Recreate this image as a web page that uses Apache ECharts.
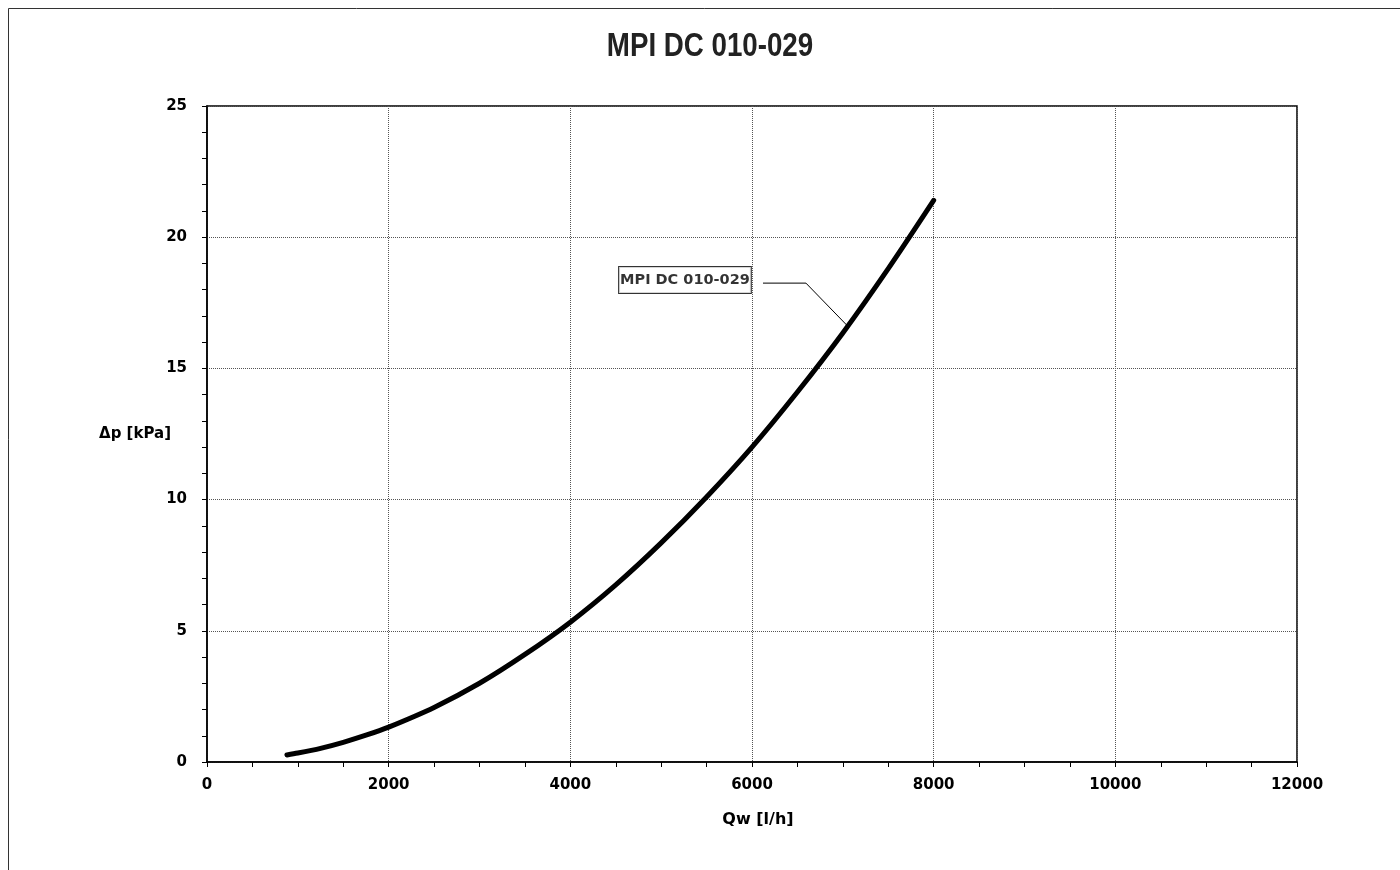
<!DOCTYPE html>
<html><head><meta charset="utf-8">
<script src="https://cdn.jsdelivr.net/npm/echarts@6/dist/echarts.min.js"></script>
<style>html,body{margin:0;padding:0;background:#fff}#c{width:1400px;height:870px}</style>
</head><body><div id="c"></div>
<script>
const titleText = 'MPI DC 010-029';
const seriesName = 'MPI DC 010-029';
const xName = 'Qw [l/h]';
const yName = 'Δp [kPa]';
const flow = [880, 1000, 1250, 1500, 1750, 2000, 2500, 3000, 3500, 4000, 4500, 5000, 5500, 6000, 6500, 7000, 7500, 8000];
const dp   = [0.27, 0.34, 0.52, 0.75, 1.02, 1.33, 2.08, 3.0, 4.1, 5.33, 6.75, 8.35, 10.1, 12.0, 14.1, 16.35, 18.8, 21.4];
const leaderX = [6121, 6594, 7057];
const leaderY = [18.25, 18.25, 16.6];
const labelPos = [5262, 18.37];

const font = 'DejaVu Sans';
const chart = echarts.init(document.getElementById('c'));
chart.setOption({
  animation: false,
  backgroundColor: '#fff',
  grid: {left: 207, right: 103, top: 106, bottom: 108, show: true, borderColor: '#000', borderWidth: 1.5,
    containLabel: false, outerBoundsMode: 'none'},
  graphic: [
    {type: 'rect', shape: {x: 8.5, y: 8.5, width: 1500, height: 1000}, style: {fill: 'none', stroke: '#333', lineWidth: 1}, silent: true, z: -1},
    {type: 'text', x: 710, y: 47, scaleX: 0.815, originX: 0, originY: 0,
     style: {text: titleText, x: 0, y: 0, align: 'center', verticalAlign: 'middle',
       font: 'bold 34px "Liberation Sans", Arial, sans-serif', fill: '#222'}}
  ],
  xAxis: {type: 'value', min: 0, max: 12000, interval: 2000,
    name: xName, nameLocation: 'middle', nameGap: 50, nameMoveOverlap: false,
    nameTextStyle: {fontFamily: font, fontSize: 16, fontWeight: 'bold', color: '#000', padding: [0, 0, 0, 12]},
    axisLine: {lineStyle: {color: '#000', width: 1.5}},
    axisTick: {show: true, inside: false, length: 5, lineStyle: {color: '#000'}},
    minorTick: {show: true, splitNumber: 4, length: 5, lineStyle: {color: '#000'}},
    axisLabel: {fontFamily: font, fontSize: 15, fontWeight: 'bold', color: '#000', margin: 16,
      formatter: v => String(v)},
    splitLine: {show: true, lineStyle: {color: '#555', type: [1, 1], width: 1}}},
  yAxis: {type: 'value', min: 0, max: 25, interval: 5,
    name: yName, nameLocation: 'middle', nameGap: 36, nameRotate: 0, nameMoveOverlap: false,
    nameTextStyle: {fontFamily: font, fontSize: 15, fontWeight: 'bold', color: '#000', padding: [10, 0, 0, 0]},
    axisLine: {lineStyle: {color: '#000', width: 1.5}},
    axisTick: {show: true, length: 5, lineStyle: {color: '#000'}},
    minorTick: {show: true, splitNumber: 5, length: 5, lineStyle: {color: '#000'}},
    axisLabel: {fontFamily: font, fontSize: 15, fontWeight: 'bold', color: '#000', margin: 20,
      formatter: v => String(v)},
    splitLine: {show: true, lineStyle: {color: '#555', type: [1, 1], width: 1}}},
  series: [
    {name: seriesName, type: 'line', smooth: 0.3, showSymbol: false, symbol: 'none',
     data: flow.map((x, i) => [x, dp[i]]),
     lineStyle: {color: '#000', width: 5, cap: 'round'}, z: 5},
    {type: 'line', showSymbol: false, symbol: 'none', data: leaderX.map((x, i) => [x, leaderY[i]]),
     lineStyle: {color: '#000', width: 1}, z: 4},
    {type: 'scatter', symbolSize: 0, data: [labelPos],
     label: {show: true, position: 'inside', formatter: seriesName,
       fontFamily: font, fontSize: 14.5, fontWeight: 'bold', color: '#000',
       backgroundColor: '#fff', borderColor: '#000', borderWidth: 1, padding: [6, 1, 5, 1]}, z: 6}
  ]
});
</script></body></html>
